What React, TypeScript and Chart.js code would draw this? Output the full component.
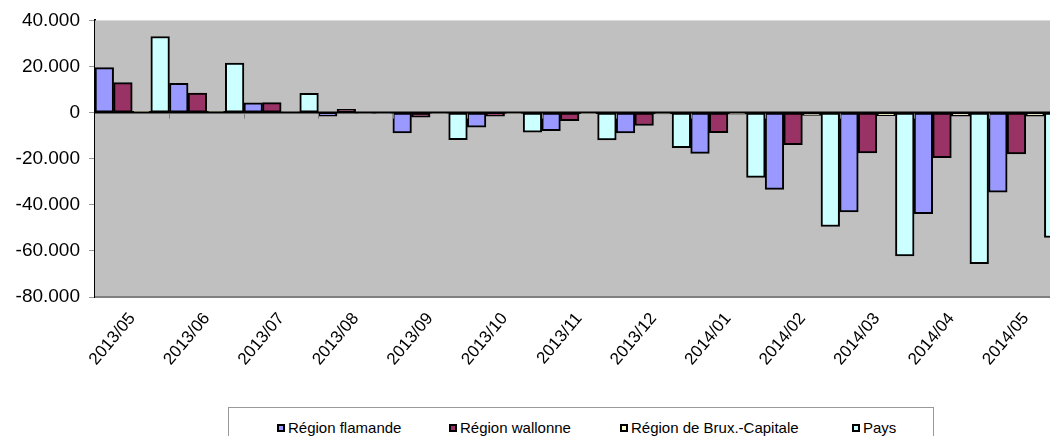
import React, { useEffect, useRef } from "react";
import { Chart, registerables } from "chart.js";

Chart.register(...registerables);

const categories = ["2013/05", "2013/06", "2013/07", "2013/08", "2013/09", "2013/10", "2013/11", "2013/12", "2014/01", "2014/02", "2014/03", "2014/04", "2014/05"];
const flamande = [19500, 12700, 4200, -1600, -8800, -6300, -7800, -8800, -17700, -33300, -43100, -43900, -34500];
const wallonne = [13000, 8500, 4300, 1400, -2000, -1600, -3500, -5600, -8700, -13900, -17500, -19600, -17900];
const bruxelles = [600, 500, 200, -200, -300, -400, -500, -600, -700, -1200, -1300, -1500, -1500];
const pays = [33000, 21500, 8400, -300, -11700, -8500, -11800, -15200, -28100, -49400, -62200, -65500, -54200];
const seriesNames = ["Région flamande", "Région wallonne", "Région de Brux.-Capitale", "Pays"];
const seriesColors = ["#9999FF", "#993366", "#FFFFCC", "#CCFFFF"];
const yTicks = [40000, 20000, 0, -20000, -40000, -60000, -80000];

const FONT = "'Liberation Sans', Arial, sans-serif";

function fmt(v: number): string {
  if (v === 0) return "0";
  const s = Math.abs(v).toString();
  const out = s.replace(/\B(?=(\d{3})+(?!\d))/g, ".");
  return (v < 0 ? "-" : "") + out;
}

const plotPlugin = {
  id: "plotDecor",
  beforeDatasetsDraw(chart: any) {
    const { ctx, chartArea } = chart;
    ctx.save();
    ctx.fillStyle = "#C0C0C0";
    ctx.fillRect(chartArea.left, chartArea.top, chartArea.right - chartArea.left, chartArea.bottom - chartArea.top);
    ctx.restore();
  },
  afterDatasetsDraw(chart: any) {
    const { ctx, chartArea } = chart;
    const x = chart.scales.x;
    const y = chart.scales.y;
    const y0 = y.getPixelForValue(0);
    const step = x.getPixelForValue(1) - x.getPixelForValue(0);
    ctx.save();
    ctx.strokeStyle = "#000";
    ctx.lineWidth = 2;
    ctx.beginPath();
    ctx.moveTo(chartArea.left, y0);
    ctx.lineTo(chartArea.right, y0);
    ctx.stroke();
    ctx.strokeStyle = "#808080";
    ctx.lineWidth = 1;
    const n = categories.length;
    for (let i = 1; i <= n; i++) {
      const px = x.getPixelForValue(0) - step / 2 + i * step;
      ctx.beginPath();
      ctx.moveTo(Math.round(px) + 0.5, y0 + 1);
      ctx.lineTo(Math.round(px) + 0.5, y0 + 6);
      ctx.stroke();
    }
    ctx.lineWidth = 2;
    ctx.beginPath();
    ctx.moveTo(chartArea.left, chartArea.bottom);
    ctx.lineTo(chartArea.right, chartArea.bottom);
    ctx.stroke();
    ctx.restore();
  },
};

export default function App() {
  const ref = useRef<HTMLCanvasElement | null>(null);
  useEffect(() => {
    if (!ref.current) return;
    const data = [flamande, wallonne, bruxelles, pays];
    const chart = new Chart(ref.current, {
      type: "bar",
      data: {
        labels: categories,
        datasets: data.map((d, i) => ({
          label: seriesNames[i],
          data: d,
          backgroundColor: seriesColors[i],
          borderColor: "#000",
          borderWidth: 2,
          borderSkipped: false,
          barPercentage: 1,
          categoryPercentage: 1,
        })),
      },
      options: {
        animation: false,
        responsive: false,
        devicePixelRatio: 1,
        layout: { padding: { top: 18, right: 17, left: 0, bottom: 0 } },
        plugins: { legend: { display: false }, tooltip: { enabled: false } },
        scales: {
          x: {
            offset: true,
            grid: { display: false, drawTicks: false },
            border: { display: false },
            ticks: {
              maxRotation: 50,
              minRotation: 50,
              autoSkip: false,
              padding: 12,
              color: "#000",
              font: { family: FONT, size: 17 },
            },
            afterFit(scale: any) {
              scale.height = 139;
            },
          },
          y: {
            min: -80000,
            max: 40000,
            afterBuildTicks(scale: any) {
              scale.ticks = yTicks.map((v) => ({ value: v }));
            },
            grid: { drawOnChartArea: false, drawTicks: true, tickLength: 6, tickColor: "#999", tickWidth: 1 },
            border: { display: true, color: "#000", width: 2 },
            ticks: {
              padding: 9,
              color: "#000",
              font: { family: FONT, size: 19 },
              callback: (v: any) => fmt(Number(v)),
            },
            afterFit(scale: any) {
              scale.width = 95;
            },
          },
        },
      },
      plugins: [plotPlugin],
    });
    return () => chart.destroy();
  }, []);

  const legendX = [277, 449, 620, 852];
  return (
    <div style={{ position: "absolute", left: 0, top: 0, width: 1050, height: 436, overflow: "hidden", background: "#fff" }}>
      <canvas ref={ref} width={1080} height={436} style={{ width: 1080, height: 436, display: "block" }} />
      <div
        style={{
          position: "absolute",
          left: 228,
          top: 407,
          width: 706,
          height: 40,
          border: "1px solid #999",
          background: "#fff",
          boxSizing: "border-box",
        }}
      />
      {seriesNames.map((name, i) => (
        <div
          key={name}
          style={{
            position: "absolute",
            left: legendX[i],
            top: 419,
            height: 17,
            display: "flex",
            alignItems: "center",
            fontFamily: FONT,
            fontSize: 15,
            color: "#000",
            whiteSpace: "nowrap",
          }}
        >
          <span
            style={{
              display: "inline-block",
              width: 8,
              height: 8,
              boxSizing: "border-box",
              border: "2px solid #000",
              background: seriesColors[i],
              marginRight: 3,
            }}
          />
          {name}
        </div>
      ))}
    </div>
  );
}
